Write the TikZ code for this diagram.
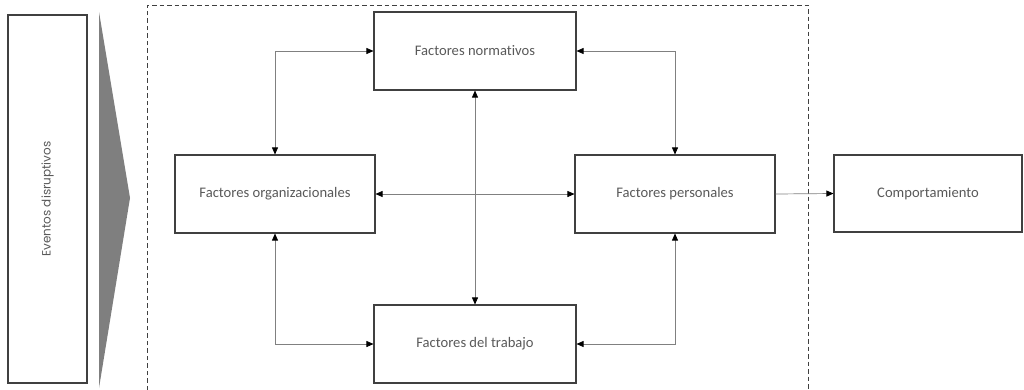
\documentclass[tikz,border=0pt]{standalone}
\usepackage{fontspec}
\setmainfont[Ligatures={NoCommon}]{Carlito}
\newfontfamily\eventfont{Poppins}
\usetikzlibrary{arrows.meta}
\definecolor{txtgray}{HTML}{595959}
\definecolor{linegray}{HTML}{404040}
\definecolor{conngray}{HTML}{808080}
\definecolor{wedgegray}{HTML}{7F7F7F}
\begin{document}
\begin{tikzpicture}[x=1pt,y=-1pt,
  box/.style={draw=linegray, line width=1.1pt, rectangle, inner sep=0pt,
    font=\fontsize{14.6}{16}\selectfont, text=txtgray},
  conn/.style={draw=conngray, line width=0.7pt,
    {Triangle[length=7pt,width=6pt,color=black]}-{Triangle[length=7pt,width=6pt,color=black]}},
  oneway/.style={draw=conngray, line width=0.7pt,
    -{Triangle[length=7pt,width=6pt,color=black]}}]
\useasboundingbox (0,0) rectangle (1024,389);

% dashed frame around the four factors (open at the bottom edge)
\draw[linegray, line width=1pt, dash pattern=on 4.5pt off 3pt]
  (147,390) -- (147,5) -- (808,5) -- (808,390);

% disrupting events column and wedge
\node[box, minimum width=79pt, minimum height=368pt] (ev) at (47.5,199) {};
\node[rotate=90, font=\eventfont\fontsize{12}{14}\selectfont, text=txtgray] (evt) at (ev.center) {Eventos disruptivos};
\fill[wedgegray] (99,12) -- (130,198) -- (99,388) -- cycle;

% factor boxes
\node[box, minimum width=202pt, minimum height=78pt] (norm) at (475,51) {Factores normativos};
\node[box, minimum width=200pt, minimum height=78pt] (org) at (275,194) {Factores organizacionales};
\node[box, minimum width=200pt, minimum height=78pt] (pers) at (675,194) {Factores personales};
\node[box, minimum width=202pt, minimum height=78pt] (trab) at (475,344) {Factores del trabajo};
\node[box, minimum width=188pt, minimum height=77pt] (comp) at (928,193.5) {Comportamiento};

% connectors
\draw[conn] (norm.west) -| (org.north);
\draw[conn] (norm.east) -| (pers.north);
\draw[conn] (org.south) |- (trab.west);
\draw[conn] (pers.south) |- (trab.east);
\draw[conn] (norm.south) -- (trab.north);
\draw[conn] (org.east) -- (pers.west);
\draw[oneway] (pers.east) -- (comp.west);
\end{tikzpicture}
\end{document}
